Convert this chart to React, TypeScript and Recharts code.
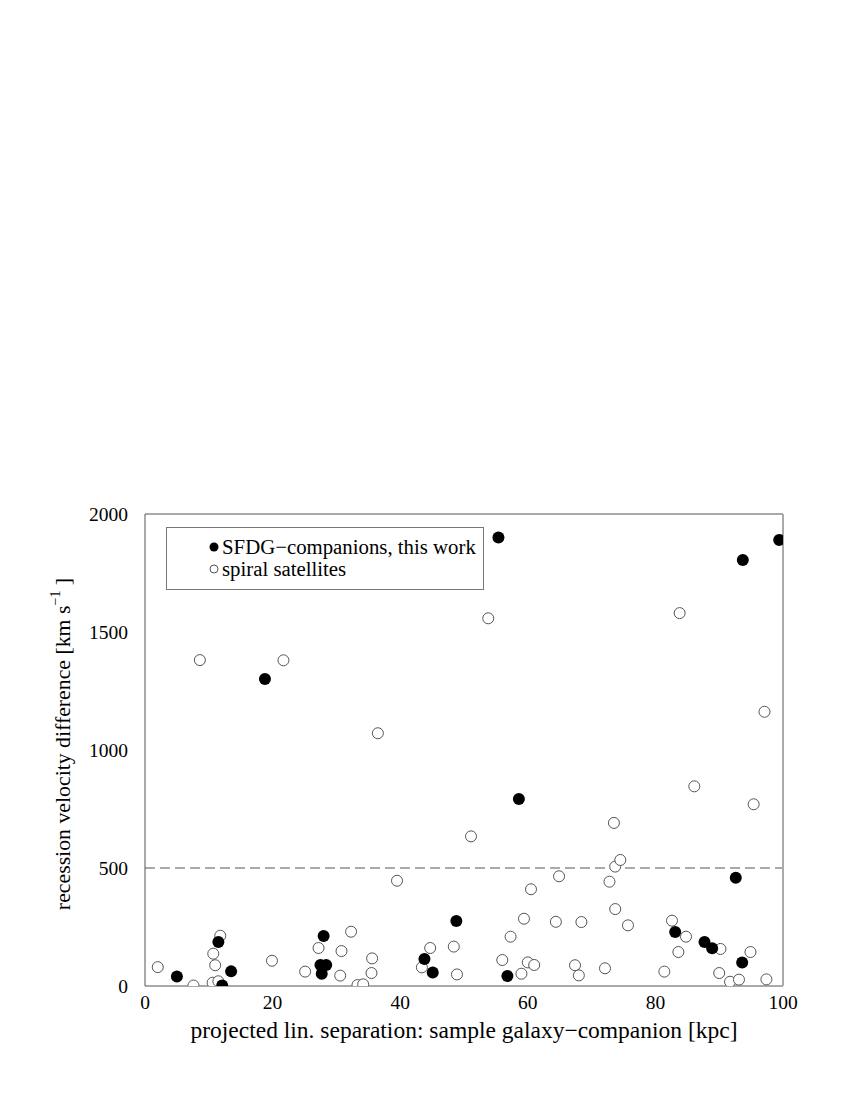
import { Legend, ReferenceLine, Scatter, ScatterChart, XAxis, YAxis } from "recharts";

// SFDG companions (filled) — projected separation [kpc] / velocity difference [km/s]
const sfdgSeparation = [5, 11.5, 12.1, 13.5, 18.8, 27.5, 27.7, 28.0, 28.4, 43.8, 45.1, 48.8, 55.4, 56.8, 58.6, 83.1, 87.7, 88.9, 92.6, 93.6, 93.7, 99.4];
const sfdgVelocity = [40, 186, 2, 62, 1301, 89, 52, 212, 89, 114, 57, 275, 1900, 42, 792, 229, 186, 160, 459, 100, 1805, 1890];

// spiral satellites (open)
const spiralSeparation = [
  2, 7.6, 8.6, 10.6, 10.7, 11.0, 11.5, 11.8, 19.9, 21.7, 25.1, 27.2, 30.6, 30.8, 32.3, 33.3, 34.2, 35.5, 35.6, 36.5,
  39.5, 43.4, 44.7, 48.4, 48.9, 51.1, 53.8, 56.0, 57.3, 59.0, 59.4, 60.0, 60.5, 61.0, 64.4, 64.9, 67.4, 68.0, 68.4, 72.1,
  72.8, 73.5, 73.7, 73.7, 74.5, 75.7, 81.4, 82.6, 83.6, 83.8, 84.8, 86.1, 90.0, 90.2, 91.7, 93.1, 94.9, 95.4, 97.1, 97.4,
];
const spiralVelocity = [
  80, 2, 1381, 14, 137, 88, 20, 213, 107, 1380, 61, 161, 44, 148, 230, 4, 7, 55, 117, 1071,
  446, 79, 161, 167, 49, 634, 1558, 110, 209, 52, 285, 100, 410, 89, 272, 465, 88, 45, 271, 75,
  442, 691, 506, 326, 534, 257, 61, 277, 144, 1580, 209, 846, 55, 157, 18, 27, 144, 770, 1162, 28,
];

const xLabelTicks = [0, 20, 40, 60, 80, 100];
const xMinorTicks = [0, 10, 20, 30, 40, 50, 60, 70, 80, 90, 100];
const yLabelTicks = [0, 500, 1000, 1500, 2000];
const yMinorTicks = [0, 250, 500, 750, 1000, 1250, 1500, 1750, 2000];
const cutVelocity = 500;

const sfdgData = sfdgSeparation.map((x, i) => ({ x, y: sfdgVelocity[i] }));
const spiralData = spiralSeparation.map((x, i) => ({ x, y: spiralVelocity[i] }));

const font = "'Liberation Serif', 'Times New Roman', serif";
const axisColor = "#555";

const FilledDot = (props: any) => <circle cx={props.cx} cy={props.cy} r={6} fill="#000" />;
const OpenDot = (props: any) => (
  <circle cx={props.cx} cy={props.cy} r={5.5} fill="#fff" stroke="#555" strokeWidth={1} />
);

const XTitle = ({ viewBox }: any) => (
  <text x={viewBox.x + viewBox.width / 2} y={viewBox.y + 52} textAnchor="middle" fontFamily={font} fontSize={23.5} fill="#000">
    projected lin. separation: sample galaxy−companion [kpc]
  </text>
);

const YTitle = ({ viewBox }: any) => {
  const cx = viewBox.x - 15;
  const cy = viewBox.y + viewBox.height / 2 - 6;
  return (
    <text x={cx} y={cy} transform={`rotate(-90, ${cx}, ${cy})`} textAnchor="middle" fontFamily={font} fontSize={21.8} fill="#000">
      recession velocity difference [km s
      <tspan dy={-10} fontSize={14}>−1</tspan>
      <tspan dy={10}> ]</tspan>
    </text>
  );
};

const LegendBox = () => (
  <svg width={318} height={63} style={{ display: "block" }}>
    <rect x={0.5} y={0.5} width={317} height={62} fill="#fff" stroke="#777" />
    <circle cx={48} cy={20} r={4.5} fill="#000" />
    <text x={56} y={27} fontFamily={font} fontSize={20.8} fill="#000">
      SFDG−companions, this work
    </text>
    <circle cx={48} cy={42} r={4} fill="#fff" stroke="#555" />
    <text x={56} y={49} fontFamily={font} fontSize={20.8} fill="#000">
      spiral satellites
    </text>
  </svg>
);

export default function App() {
  return (
    <div style={{ position: "absolute", left: 0, top: 0, width: 850, height: 1100, background: "#fff" }}>
      <ScatterChart width={850} height={1100} margin={{ top: 514, right: 67, bottom: 84, left: 85 }}>
        <XAxis
          xAxisId="main"
          type="number"
          dataKey="x"
          domain={[0, 100]}
          ticks={xLabelTicks}
          allowDataOverflow
          height={30}
          tickLine={false}
          tickSize={0}
          tickMargin={9}
          axisLine={{ stroke: axisColor }}
          tick={{ fill: "#000", fontSize: 19.5, fontFamily: font }}
          label={<XTitle />}
        />
        <XAxis
          xAxisId="bottomTicks"
          type="number"
          domain={[0, 100]}
          ticks={xMinorTicks}
          allowDataOverflow
          mirror
          orientation="bottom"
          tick={false}
          tickSize={5}
          axisLine={false}
          tickLine={{ stroke: axisColor }}
        />
        <XAxis
          xAxisId="top"
          type="number"
          domain={[0, 100]}
          ticks={xMinorTicks}
          allowDataOverflow
          mirror
          orientation="top"
          tick={false}
          tickSize={5}
          axisLine={{ stroke: axisColor }}
          tickLine={{ stroke: axisColor }}
        />
        <YAxis
          yAxisId="main"
          type="number"
          dataKey="y"
          domain={[0, 2000]}
          ticks={yLabelTicks}
          allowDataOverflow
          width={60}
          tickLine={false}
          tickSize={0}
          tickMargin={17}
          axisLine={{ stroke: axisColor }}
          tick={{ fill: "#000", fontSize: 19.5, fontFamily: font }}
          label={<YTitle />}
        />
        <YAxis
          yAxisId="leftTicks"
          type="number"
          domain={[0, 2000]}
          ticks={yMinorTicks}
          allowDataOverflow
          mirror
          orientation="left"
          tick={false}
          tickSize={5}
          axisLine={false}
          tickLine={{ stroke: axisColor }}
        />
        <YAxis
          yAxisId="right"
          type="number"
          domain={[0, 2000]}
          ticks={yMinorTicks}
          allowDataOverflow
          mirror
          orientation="right"
          tick={false}
          tickSize={5}
          axisLine={{ stroke: "#aaa", strokeWidth: 2 }}
          tickLine={{ stroke: axisColor }}
        />
        <ReferenceLine xAxisId="main" yAxisId="main" y={cutVelocity} stroke="#555" strokeDasharray="10 5" />
        <Scatter name="spiral satellites" data={spiralData} xAxisId="main" yAxisId="main" shape={OpenDot} isAnimationActive={false} />
        <Scatter name="SFDG−companions, this work" data={sfdgData} xAxisId="main" yAxisId="main" shape={FilledDot} isAnimationActive={false} />
        <Legend
          content={<LegendBox />}
          layout="horizontal"
          align="center"
          verticalAlign="middle"
          wrapperStyle={{ left: 166, top: 527, width: 318, height: 63 }}
        />
      </ScatterChart>
    </div>
  );
}
